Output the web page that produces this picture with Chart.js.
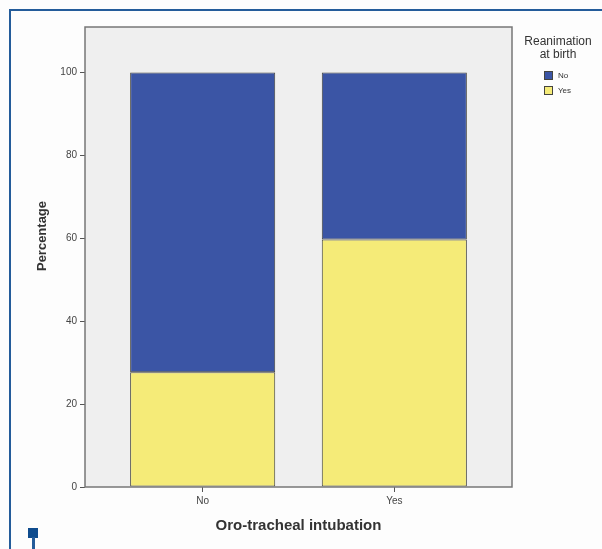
<!DOCTYPE html>
<html>
<head>
<meta charset="utf-8">
<script src="https://cdn.jsdelivr.net/npm/chart.js@4.4.1/dist/chart.umd.min.js"></script>
<style>
  html, body { margin: 0; padding: 0; background: #fdfdfd; }
  #wrap { position: relative; width: 602px; height: 549px; overflow: hidden; }
  #c { position: absolute; left: 0; top: 0; }
  .frame-top { position: absolute; left: 9px; top: 9px; width: 600px; height: 2px; background: #245c9a; }
  .frame-left { position: absolute; left: 9px; top: 9px; width: 2px; height: 540px; background: #245c9a; }
  .mark-sq { position: absolute; left: 28px; top: 528px; width: 10px; height: 10px; background: #0f4c8e; }
  .mark-stem { position: absolute; left: 32px; top: 537px; width: 3px; height: 12px; background: #245c9a; }
</style>
</head>
<body>
<div id="wrap">
  <div class="frame-top"></div>
  <div class="frame-left"></div>
  <div class="mark-sq"></div>
  <div class="mark-stem"></div>
  <canvas id="c" width="602" height="549"></canvas>
</div>
<script>
// Oro-tracheal intubation (x) vs. reanimation at birth (stacked percentages)
const categories = ['No', 'Yes'];
const reanimNo = [72.3, 40.3];   // blue segment
const reanimYes = [27.7, 59.7];  // yellow segment
const yTickValues = [0, 20, 40, 60, 80, 100];

const FONT = '"Liberation Sans", Arial, sans-serif';
const COLORS = { no: '#3b55a5', yes: '#f5eb78', edge: '#45453f' };

const toPoints = vals => categories.map((c, i) => ({ x: i, y: vals[i] }));

// Plot background and frame
const plotFrame = {
  id: 'plotFrame',
  beforeDatasetsDraw(chart) {
    const { ctx, chartArea: a } = chart;
    ctx.save();
    ctx.fillStyle = '#efefef';
    ctx.fillRect(a.left, a.top, a.right - a.left, a.bottom - a.top);
    ctx.restore();
  },
  afterDatasetsDraw(chart) {
    const { ctx, chartArea: a } = chart;
    ctx.save();
    ctx.strokeStyle = '#777';
    ctx.lineWidth = 1.5;
    ctx.strokeRect(a.left, a.top, a.right - a.left, a.bottom - a.top);
    ctx.restore();
  }
};

// Y axis title and the legend box on the right
const extras = {
  id: 'extras',
  afterDraw(chart) {
    const { ctx } = chart;
    ctx.save();
    ctx.fillStyle = '#333';
    ctx.font = 'bold 13px ' + FONT;
    ctx.textAlign = 'center';
    ctx.textBaseline = 'middle';
    ctx.translate(42, 236);
    ctx.rotate(-Math.PI / 2);
    ctx.fillText('Percentage', 0, 0);
    ctx.restore();

    ctx.save();
    ctx.fillStyle = '#333';
    ctx.font = '12px ' + FONT;
    ctx.textAlign = 'center';
    ctx.textBaseline = 'middle';
    ctx.fillText('Reanimation', 558, 42);
    ctx.fillText('at birth', 558, 55);
    const items = chart.data.datasets.slice().reverse();
    ctx.font = '8px ' + FONT;
    ctx.textAlign = 'left';
    items.forEach((ds, i) => {
      const y = 71 + i * 15;
      ctx.fillStyle = ds.backgroundColor;
      ctx.fillRect(544, y, 9, 9);
      ctx.strokeStyle = COLORS.edge;
      ctx.lineWidth = 1;
      ctx.strokeRect(544.5, y + 0.5, 8, 8);
      ctx.fillStyle = '#333';
      ctx.fillText(ds.label, 558, y + 4.5);
    });
    ctx.restore();
  }
};

new Chart(document.getElementById('c'), {
  type: 'bar',
  data: {
    datasets: [
      { label: 'Yes', data: toPoints(reanimYes), backgroundColor: COLORS.yes,
        borderColor: COLORS.edge, borderWidth: 1, borderSkipped: false },
      { label: 'No', data: toPoints(reanimNo), backgroundColor: COLORS.no,
        borderColor: COLORS.edge, borderWidth: 1, borderSkipped: false }
    ]
  },
  options: {
    responsive: false,
    animation: false,
    devicePixelRatio: 1,
    categoryPercentage: 1,
    barPercentage: 0.757,
    layout: { padding: { top: 27, right: 90, left: 0, bottom: 0 } },
    plugins: { legend: { display: false }, tooltip: { enabled: false } },
    scales: {
      x: {
        type: 'linear',
        min: -0.614,
        max: 1.614,
        stacked: true,
        offset: false,
        afterBuildTicks: s => { s.ticks = categories.map((c, i) => ({ value: i })); },
        afterFit: s => { s.height = 62; },
        ticks: {
          callback: v => categories[v],
          font: { family: FONT, size: 10 },
          color: '#444',
          padding: 3,
          maxRotation: 0,
          autoSkip: false
        },
        grid: { offset: false, drawOnChartArea: false, drawTicks: true, tickLength: 5, color: '#555' },
        border: { display: false },
        title: {
          display: true,
          text: 'Oro-tracheal intubation',
          font: { family: FONT, size: 15, weight: 'bold' },
          color: '#333',
          padding: { top: 0, bottom: 14 }
        }
      },
      y: {
        stacked: true,
        min: 0,
        max: 111,
        afterBuildTicks: s => { s.ticks = yTickValues.map(v => ({ value: v })); },
        afterFit: s => { s.width = 85; },
        ticks: {
          font: { family: FONT, size: 10 },
          color: '#444',
          padding: 3
        },
        grid: { drawOnChartArea: false, drawTicks: true, tickLength: 5, color: '#555' },
        border: { display: false }
      }
    }
  },
  plugins: [plotFrame, extras]
});
</script>
</body>
</html>
